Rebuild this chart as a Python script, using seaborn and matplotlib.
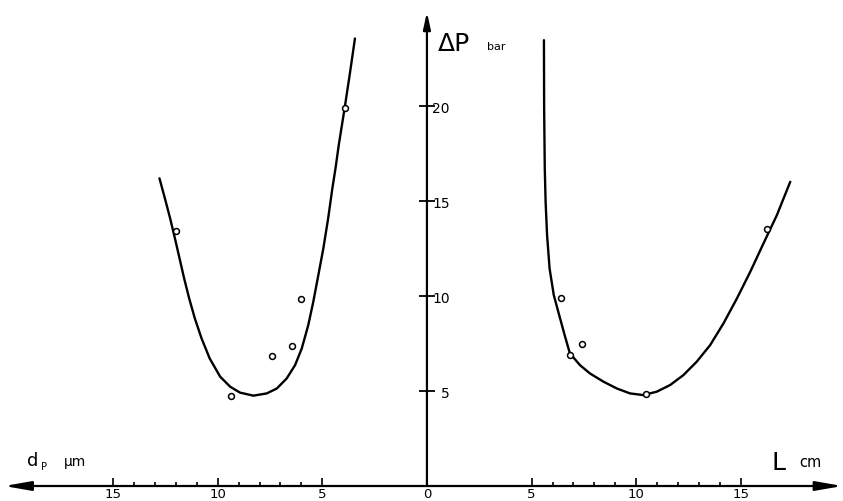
import numpy as np
import pandas as pd
import matplotlib
matplotlib.use("Agg")
import matplotlib.pyplot as plt
from matplotlib.ticker import FixedLocator, FixedFormatter
import seaborn as sns

# ---------------- data ----------------
# left branch: particle diameter dp (µm), plotted to the left of 0
dp_pts = [12.0, 3.9, 6.0, 6.45, 7.4, 9.35]
dp_pts_dP = [13.45, 19.93, 9.85, 7.4, 6.85, 4.75]
dp_curve = [12.78, 12.52, 12.27, 12.04, 11.82, 11.60, 11.36, 11.09, 10.77,
            10.38, 9.88, 9.40, 8.93, 8.29, 7.65, 7.17, 6.70, 6.30, 5.98,
            5.67, 5.43, 5.19, 4.95, 4.72, 4.52, 4.37, 4.21, 3.93, 3.68,
            3.44]
dp_curve_dP = [16.21, 15.15, 14.10, 13.04, 11.99, 10.93, 9.88, 8.83, 7.78,
               6.72, 5.76, 5.23, 4.92, 4.76, 4.88, 5.14, 5.67, 6.37, 7.25,
               8.48, 9.71, 11.11, 12.52, 14.10, 15.68, 16.73, 17.99, 19.93,
               21.75, 23.58]

# right branch: column length L (cm)
L_pts = [6.4, 7.4, 6.85, 10.45, 16.25]
L_pts_dP = [9.9, 7.5, 6.9, 4.85, 13.55]
L_curve = [5.59, 5.595, 5.60, 5.63, 5.67, 5.74, 5.86, 6.06, 6.32, 6.58,
           6.83, 7.31, 7.79, 8.43, 9.07, 9.70, 10.34, 10.98, 11.62, 12.25,
           12.89, 13.53, 14.17, 14.81, 15.45, 16.08, 16.72, 17.36]
L_curve_dP = [23.49, 21.7, 19.9, 16.73, 14.98, 13.22, 11.46, 10.06, 9.00,
              7.95, 6.99, 6.37, 5.93, 5.50, 5.14, 4.88, 4.79, 4.97, 5.32,
              5.84, 6.55, 7.42, 8.57, 9.88, 11.29, 12.78, 14.27, 16.03]

x_ticks = [-15, -10, -5, 0, 5, 10, 15]
x_tick_labels = ["15", "10", "5", "0", "5", "10", "15"]
x_minor = [-14, -13, -12, -11, -9, -8, -7, -6, 6, 7, 8, 9, 11, 12, 13, 14]
y_ticks = [5, 10, 15, 20]
y_tick_labels = ["5", "10", "15", "20"]

# ---------------- figure ----------------
sns.set_theme(style="white")
plt.rcParams["font.family"] = ["DejaVu Sans"]
plt.rcParams["text.color"] = "black"
plt.rcParams["xtick.color"] = "black"
plt.rcParams["ytick.color"] = "black"

fig = plt.figure(figsize=(8.43, 5.02), dpi=100)
ax = fig.add_axes([0, 0, 1, 1])
ax.set_facecolor("white")

left_curve = pd.DataFrame({"x": -np.array(dp_curve), "y": dp_curve_dP})
right_curve = pd.DataFrame({"x": L_curve, "y": L_curve_dP})
sns.lineplot(data=left_curve, x="x", y="y", sort=False, estimator=None,
             color="black", lw=1.7, ax=ax)
sns.lineplot(data=right_curve, x="x", y="y", sort=False, estimator=None,
             color="black", lw=1.7, ax=ax)

pts = pd.DataFrame({"x": list(-np.array(dp_pts)) + L_pts,
                    "y": dp_pts_dP + L_pts_dP})
sns.scatterplot(data=pts, x="x", y="y", marker="o", s=18,
                facecolor="white", edgecolor="black", linewidth=1.1,
                zorder=4, ax=ax)

ax.set_xlim(-20.4, 19.88)
ax.set_ylim(-0.79, 25.66)
ax.set_xlabel("")
ax.set_ylabel("")

# axes through the origin
for s in ["top", "left"]:
    ax.spines[s].set_visible(False)
ax.spines["bottom"].set_position(("data", 0))
ax.spines["bottom"].set_color("none")
ax.spines["right"].set_position(("data", 0))
ax.spines["right"].set_color("none")

# arrows for the axes
ax.annotate("", xy=(19.85, 0), xytext=(0, 0),
            arrowprops=dict(arrowstyle="-|>,head_length=1.6,head_width=0.28",
                            lw=1.6, color="black", shrinkA=0, shrinkB=0,
                            mutation_scale=10))
ax.annotate("", xy=(-20.2, 0), xytext=(0, 0),
            arrowprops=dict(arrowstyle="-|>,head_length=1.6,head_width=0.28",
                            lw=1.6, color="black", shrinkA=0, shrinkB=0,
                            mutation_scale=10))
ax.annotate("", xy=(0, 24.97), xytext=(0, 0),
            arrowprops=dict(arrowstyle="-|>,head_length=1.0,head_width=0.22",
                            lw=1.6, color="black", shrinkA=0, shrinkB=0,
                            mutation_scale=10))

# x ticks
ax.xaxis.set_ticks_position("bottom")
ax.xaxis.set_major_locator(FixedLocator(x_ticks))
ax.xaxis.set_major_formatter(FixedFormatter(x_tick_labels))
ax.xaxis.set_minor_locator(FixedLocator(x_minor))
ax.tick_params(axis="x", which="major", direction="in", length=6, width=1.2,
               color="black", labelsize=9.5, pad=1, labelcolor="black")
ax.tick_params(axis="x", which="minor", direction="in", length=3, width=1.2,
               color="black", bottom=True)

# y ticks on the right of the vertical axis
ax.yaxis.tick_right()
ax.yaxis.set_major_locator(FixedLocator(y_ticks))
ax.yaxis.set_major_formatter(FixedFormatter(y_tick_labels))
ax.tick_params(axis="y", which="major", direction="inout", length=11,
               width=1.3, color="black", labelsize=10, pad=11,
               labelcolor="black")
for lab in ax.get_yticklabels():
    lab.set_ha("right")

# axis titles
def px(x, y):
    return x / 843.0, 1 - y / 502.0

ax.text(*px(438, 51), "ΔP", transform=ax.transAxes, fontsize=18,
        ha="left", va="baseline", color="black")
ax.text(*px(487, 50), "bar", transform=ax.transAxes, fontsize=8,
        ha="left", va="baseline", color="black")
ax.text(*px(27, 466), "d", transform=ax.transAxes, fontsize=13,
        ha="left", va="baseline", color="black")
ax.text(*px(41, 470), "P", transform=ax.transAxes, fontsize=7,
        ha="left", va="baseline", color="black")
ax.text(*px(64, 466), "µm", transform=ax.transAxes, fontsize=10,
        ha="left", va="baseline", color="black")
ax.text(*px(772, 470), "L", transform=ax.transAxes, fontsize=18,
        ha="left", va="baseline", color="black")
ax.text(*px(799, 467), "cm", transform=ax.transAxes, fontsize=10.5,
        ha="left", va="baseline", color="black")

fig.savefig("out.png", dpi=100, facecolor="white")
